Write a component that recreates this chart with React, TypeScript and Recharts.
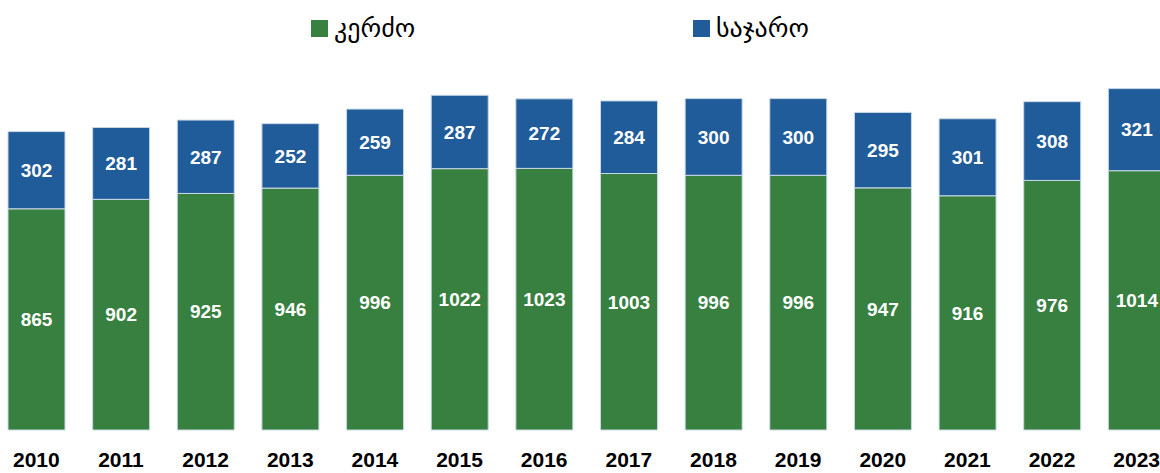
import React from "react";
import { BarChart, Bar, XAxis, YAxis, LabelList } from "recharts";

const years = ["2010", "2011", "2012", "2013", "2014", "2015", "2016", "2017", "2018", "2019", "2020", "2021", "2022", "2023"];
const privateVals = [865, 902, 925, 946, 996, 1022, 1023, 1003, 996, 996, 947, 916, 976, 1014];
const publicVals = [302, 281, 287, 252, 259, 287, 272, 284, 300, 300, 295, 301, 308, 321];
const seriesNames = ["კერძო", "საჯარო"];
const colors = ["#378040", "#205c9a"];

const data = years.map((y, i) => ({ year: y, priv: privateVals[i], pub: publicVals[i] }));

const legendItems = [
  { name: seriesNames[0], color: colors[0], left: 311 },
  { name: seriesNames[1], color: colors[1], left: 693 },
];

export default function App() {
  return (
    <div style={{ position: "absolute", left: 0, top: 0, width: 1160, height: 473, overflow: "hidden", background: "#fff" }}>
      {legendItems.map((it) => (
        <div key={it.name} style={{ position: "absolute", left: it.left, top: 12, height: 32, display: "flex", alignItems: "center", fontFamily: "DejaVu Sans, sans-serif", fontSize: 26, color: "#000" }}>
          <span style={{ display: "inline-block", width: 17, height: 17, background: it.color, marginRight: 6 }} />
          <span>{it.name}</span>
        </div>
      ))}
      <div style={{ position: "absolute", left: -6, top: 1 }}>
        <BarChart width={1185} height={472} data={data} margin={{ top: 71, right: 0, bottom: 0, left: 0 }}>
          <XAxis
            dataKey="year"
            axisLine={false}
            tickLine={false}
            tickSize={0}
            tickMargin={22}
            height={43}
            interval={0}
            tick={{ fill: "#000", fontSize: 21, fontWeight: 700, fontFamily: "Liberation Sans, Arial, sans-serif" }}
          />
          <YAxis hide domain={[0, 1400]} />
          <Bar dataKey="priv" stackId="a" fill={colors[0]} stroke="#c9d8e6" strokeWidth={1} barSize={57} isAnimationActive={false}>
            <LabelList dataKey="priv" position="center" fill="#fff" fontSize={19} fontWeight={700} fontFamily="Liberation Sans, Arial, sans-serif" />
          </Bar>
          <Bar dataKey="pub" stackId="a" fill={colors[1]} stroke="#c9d8e6" strokeWidth={1} barSize={57} isAnimationActive={false}>
            <LabelList dataKey="pub" position="center" fill="#fff" fontSize={19} fontWeight={700} fontFamily="Liberation Sans, Arial, sans-serif" />
          </Bar>
        </BarChart>
      </div>
    </div>
  );
}
